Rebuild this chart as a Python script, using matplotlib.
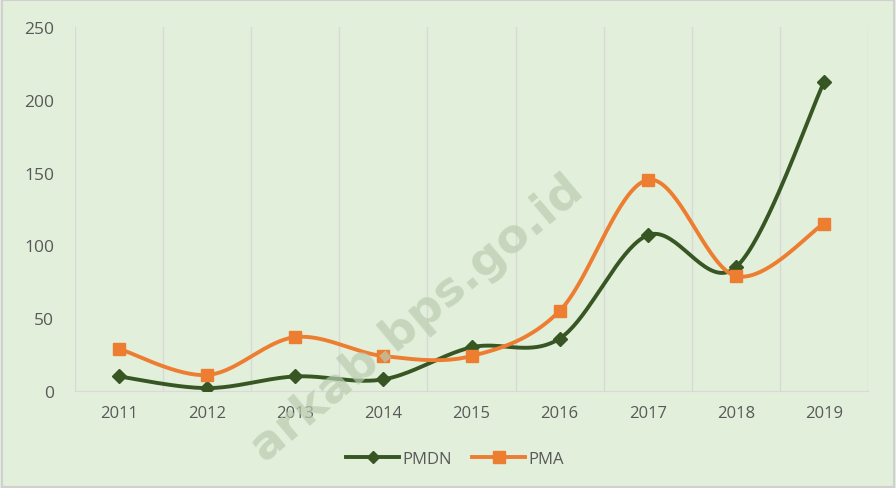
import numpy as np
import matplotlib
matplotlib.use("Agg")
import matplotlib.pyplot as plt
from matplotlib.lines import Line2D
from matplotlib.patches import Rectangle

# data
years = ["2011", "2012", "2013", "2014", "2015", "2016", "2017", "2018", "2019"]
pmdn = [10, 2, 10, 8, 30, 36, 107, 85, 212]
pma = [29, 11, 37, 24, 24, 55, 145, 79, 115]


def smooth(x, y, n=40):
    # Excel-style smoothed line (Catmull-Rom through bezier segments)
    p = np.column_stack([x, y]).astype(float)
    out = []
    for i in range(len(p) - 1):
        p0 = p[i - 1] if i > 0 else p[i]
        p1 = p[i]
        p2 = p[i + 1]
        p3 = p[i + 2] if i + 2 < len(p) else p[i + 1]
        c1 = p1 + (p2 - p0) / 6
        c2 = p2 - (p3 - p1) / 6
        t = np.linspace(0, 1, n)[:, None]
        seg = ((1 - t) ** 3) * p1 + 3 * ((1 - t) ** 2) * t * c1 + 3 * (1 - t) * t ** 2 * c2 + t ** 3 * p2
        out.append(seg if i == 0 else seg[1:])
    out = np.vstack(out)
    return out[:, 0], out[:, 1]


bg = "#E2EFDA"
c_pmdn = "#375623"
c_pma = "#ED7D31"
txt = "#595959"

plt.rcParams["font.family"] = ["Open Sans", "DejaVu Sans"]

fig = plt.figure(figsize=(8.96, 4.89), dpi=100, facecolor=bg)
ax = fig.add_axes([75 / 896, 97 / 489, 793 / 896, 364 / 489])
ax.set_facecolor(bg)

x = np.arange(1, len(years) + 1)
sx, sy = smooth(x, pmdn)
ax.plot(sx, sy, color=c_pmdn, lw=2.8, solid_capstyle="round", zorder=3)
ax.plot(x, pmdn, ls="none", marker="D", ms=7.5, color=c_pmdn, zorder=4)
sx, sy = smooth(x, pma)
ax.plot(sx, sy, color=c_pma, lw=2.8, solid_capstyle="round", zorder=3)
ax.plot(x, pma, ls="none", marker="s", ms=9, color=c_pma, zorder=4)

ax.set_xlim(0.5, len(years) + 0.5)
ax.set_ylim(0, 250)
ax.set_yticks(range(0, 251, 50))
ax.set_xticks(x)
ax.set_xticklabels(years)
for b in np.arange(0.5, len(years) + 1, 1):
    ax.axvline(b, color="#D9D9D9", lw=1, zorder=1)

for s in ["top", "right", "left"]:
    ax.spines[s].set_visible(False)
ax.spines["bottom"].set_color("#D9D9D9")
ax.tick_params(axis="both", length=0, colors=txt, labelsize=12.5)
ax.tick_params(axis="x", pad=10, labelsize=12)
ax.tick_params(axis="y", pad=15)

handles = [
    Line2D([0], [0], color=c_pmdn, lw=2.8, marker="D", ms=6),
    Line2D([0], [0], color=c_pma, lw=2.8, marker="s", ms=8),
]
leg = fig.legend(handles, ["PMDN", "PMA"], loc="center", bbox_to_anchor=(455 / 896, 1 - 460 / 489),
                 ncol=2, frameon=False, fontsize=12, handlelength=3.2, handletextpad=0.2, columnspacing=1.2)
for t in leg.get_texts():
    t.set_color(txt)

# watermark
fig.text(0.465, 0.35, "arkab.bps.go.id", rotation=40, fontsize=34, fontweight="bold",
         color="#B9CCB1", alpha=0.7, ha="center", va="center", zorder=10, family="DejaVu Sans")

fig.patches.append(Rectangle((0.002, 0.003), 0.996, 0.994, transform=fig.transFigure,
                             fill=False, edgecolor="#D0D0D0", lw=1.5))

fig.savefig("out.png", dpi=100, facecolor=bg)
